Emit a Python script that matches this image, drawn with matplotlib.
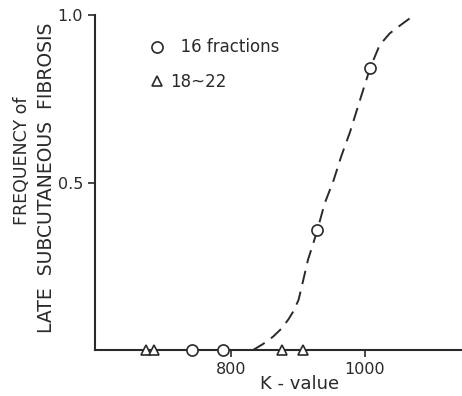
import numpy as np
import matplotlib
matplotlib.use("Agg")
import matplotlib.pyplot as plt

# data
k_circle = [742, 788, 929, 1008]
f_circle = [0.0, 0.0, 0.358, 0.843]
k_tri = [673, 685, 876, 907]
f_tri = [0.0, 0.0, 0.0, 0.0]

# hand-drawn dashed fit curve
k_curve = [833, 848, 863, 876, 886, 894, 901, 908, 915, 923, 929, 940, 953,
           965, 978, 995, 1008, 1022, 1037, 1050, 1067]
f_curve = [0.0, 0.018, 0.040, 0.065, 0.092, 0.118, 0.150, 0.209, 0.269, 0.319, 0.358,
           0.438, 0.505, 0.580, 0.652, 0.761, 0.843, 0.910, 0.945, 0.965, 0.990]

ink = "#2a2a2a"
plt.rcParams['font.family'] = ['DejaVu Sans']

fig = plt.figure(figsize=(4.62, 3.96), dpi=100)
ax = fig.add_axes([95 / 462, 46 / 396, 1 - 95 / 462, 335 / 396])

ax.plot(k_curve, f_curve, color=ink, lw=1.4, dashes=(7, 4))
ax.plot(k_circle, f_circle, 'o', ms=8, mfc='white', mec=ink, mew=1.2,
        label='  16 fractions', clip_on=False, zorder=5)
ax.plot(k_tri, f_tri, '^', ms=7, mfc='white', mec=ink, mew=1.2,
        label='18~22', clip_on=False, zorder=5)

ax.set_xlim(597, 1145)
ax.set_ylim(0, 1.0)
ax.set_xticks([800, 1000])
ax.set_yticks([0.5, 1.0])
ax.set_yticklabels(['0.5', '1.0'])
ax.tick_params(direction='out', length=5, width=1.2, colors=ink, labelsize=11.5)
for s in ['top', 'right']:
    ax.spines[s].set_visible(False)
for s in ['left', 'bottom']:
    ax.spines[s].set_color(ink)
    ax.spines[s].set_linewidth(1.5)

ax.set_xlabel('K - value', fontsize=13, color=ink)
ax.xaxis.set_label_coords((300 - 95) / 367, -0.075)

fig.text(22 / 462, 1 - 161 / 396, 'FREQUENCY of', rotation=90, ha='center', va='center',
         fontsize=12.5, color=ink)
fig.text(47 / 462, 1 - 178 / 396, 'LATE  SUBCUTANEOUS  FIBROSIS', rotation=90, ha='center',
         va='center', fontsize=13.5, color=ink)

ax.legend(loc='upper left', bbox_to_anchor=(0.11, 0.975), frameon=False, fontsize=12,
          handlelength=0.8, handletextpad=0.4, labelspacing=1.0, labelcolor=ink)

fig.savefig('out.png', dpi=100)
